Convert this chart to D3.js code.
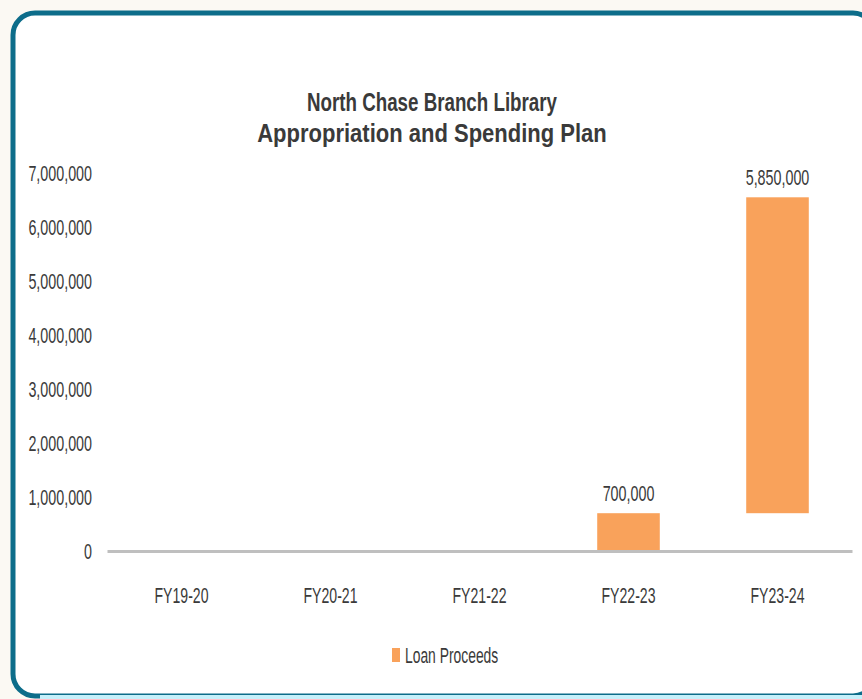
<!DOCTYPE html>
<html>
<head>
<meta charset="utf-8">
<script src="https://cdn.jsdelivr.net/npm/d3@7"></script>
<style>
  html, body { margin: 0; padding: 0; background: #fbf9f3; }
  svg { display: block; }
</style>
</head>
<body>
<svg id="chart" width="862" height="699"></svg>
<script>
// ---- data ----
const categories = ["FY19-20", "FY20-21", "FY21-22", "FY22-23", "FY23-24"];
const loanProceeds = [0, 0, 0, 700000, 5850000];
const yTicks = [0, 1000000, 2000000, 3000000, 4000000, 5000000, 6000000, 7000000];
const titleLines = ["North Chase Branch Library", "Appropriation and Spending Plan"];
const seriesName = "Loan Proceeds";

// ---- layout ----
const W = 862, H = 699;
const font = "'Liberation Sans', Arial, sans-serif";
const textColor = "#3a3a3a";
const barColor = "#f9a25b";

const svg = d3.select("#chart");

// horizontally condense text (reference uses a narrow font)
function condense(sel, factor) {
  sel.each(function (d, i) {
    const f = typeof factor === "function" ? factor(d, i) : factor;
    const w = this.getComputedTextLength();
    if (w > 0) {
      d3.select(this)
        .attr("textLength", w * f)
        .attr("lengthAdjust", "spacingAndGlyphs");
    }
  });
}

// frame
svg.append("rect")
  .attr("x", 13).attr("y", 13)
  .attr("width", 862).attr("height", 683)
  .attr("rx", 22).attr("ry", 22)
  .attr("fill", "#ffffff")
  .attr("stroke", "#0d6d8a")
  .attr("stroke-width", 5);
svg.append("line")
  .attr("x1", 40).attr("x2", W)
  .attr("y1", 697).attr("y2", 697)
  .attr("stroke", "#c6f0fa").attr("stroke-width", 4);

// scales
const x = d3.scaleBand()
  .domain(categories)
  .range([107, 852])
  .paddingInner(0.58).paddingOuter(0.29);

const y = d3.scaleLinear()
  .domain([0, 7000000])
  .range([551, 173]);

// waterfall bases
let run = 0;
const bars = categories.map((c, i) => {
  const base = run;
  run += loanProceeds[i];
  return { cat: c, value: loanProceeds[i], base: base, top: run };
});

// title
const title = svg.append("g").selectAll("text")
  .data(titleLines)
  .join("text")
  .attr("x", 432)
  .attr("y", (d, i) => 111 + i * 31)
  .attr("text-anchor", "middle")
  .attr("font-family", font)
  .attr("font-size", 25)
  .attr("font-weight", "bold")
  .attr("fill", textColor)
  .text(d => d);
condense(title, (d, i) => i === 0 ? 0.75 : 0.88);

// y axis labels
const yAxis = d3.axisLeft(y)
  .tickValues(yTicks)
  .tickSize(0)
  .tickPadding(15)
  .tickFormat(d3.format(","));
const gy = svg.append("g")
  .attr("transform", "translate(107,0)")
  .call(yAxis);
gy.select(".domain").remove();
gy.selectAll("text")
  .attr("font-family", font)
  .attr("font-size", 22)
  .attr("fill", textColor);
condense(gy.selectAll("text"), 0.65);

// bars
svg.append("g").selectAll("rect")
  .data(bars.filter(d => d.value > 0))
  .join("rect")
  .attr("x", d => x(d.cat))
  .attr("width", x.bandwidth())
  .attr("y", d => y(d.top))
  .attr("height", d => y(d.base) - y(d.top))
  .attr("fill", barColor);

// x axis
const xAxis = d3.axisBottom(x).tickSize(0).tickPadding(36);
const gx = svg.append("g")
  .attr("transform", "translate(0,551)")
  .call(xAxis);
gx.select(".domain")
  .attr("stroke", "#bfbfbf")
  .attr("stroke-width", 3);
gx.selectAll("text")
  .attr("font-family", font)
  .attr("font-size", 22)
  .attr("fill", textColor);
condense(gx.selectAll("text"), 0.64);

// data labels
const dl = svg.append("g").selectAll("text")
  .data(bars.filter(d => d.value > 0))
  .join("text")
  .attr("x", d => x(d.cat) + x.bandwidth() / 2)
  .attr("y", d => y(d.top) - 12)
  .attr("text-anchor", "middle")
  .attr("font-family", font)
  .attr("font-size", 22)
  .attr("fill", textColor)
  .text(d => d3.format(",")(d.value));
condense(dl, 0.65);

// legend
const lg = svg.append("g").attr("transform", "translate(392,655)");
lg.append("rect")
  .attr("x", 0).attr("y", -7)
  .attr("width", 8).attr("height", 14)
  .attr("fill", barColor);
const lt = lg.append("text")
  .attr("x", 13).attr("y", 0)
  .attr("dy", "0.35em")
  .attr("font-family", font)
  .attr("font-size", 22)
  .attr("fill", textColor)
  .text(seriesName);
condense(lt, 0.63);
</script>
</body>
</html>
